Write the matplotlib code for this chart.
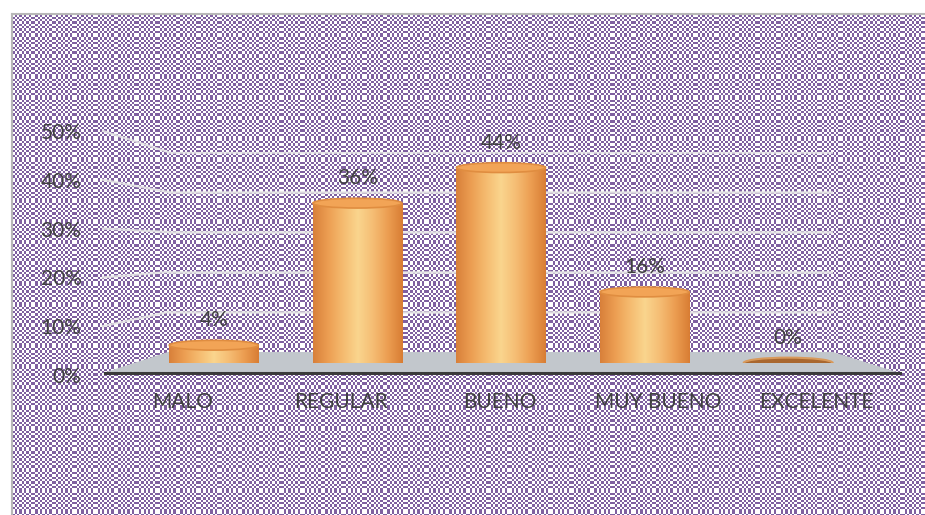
import numpy as np
import matplotlib
matplotlib.use("Agg")
import matplotlib.pyplot as plt
from matplotlib.colors import LinearSegmentedColormap
from matplotlib.patches import Ellipse, Polygon
from matplotlib.lines import Line2D
from matplotlib.ticker import PercentFormatter

categories = ["MALO", "REGULAR", "BUENO", "MUY BUENO", "EXCELENTE"]
values = [0.04, 0.36, 0.44, 0.16, 0.00]
value_labels = ["4%", "36%", "44%", "16%", "0%"]
yticks = [0.0, 0.1, 0.2, 0.3, 0.4, 0.5]

W, H = 925, 515
plt.rcParams['font.family'] = ['Lato', 'DejaVu Sans']
fig = plt.figure(figsize=(W / 100, H / 100), dpi=100)
fig.patch.set_facecolor('white')

# --- checkered purple background (decoration) ---
x0, y0 = 12, 14
bh, bw = H - y0, W - x0
yy, xx = np.mgrid[0:bh, 0:bw]
cell = 2.3
px = np.floor(xx / cell) + np.floor(xx / (9 * cell))
py = np.floor(yy / cell) + np.floor(yy / (9 * cell))
chk = ((px + py) % 2).astype(bool)
purple = np.array([0.50, 0.38, 0.63])
img = np.ones((bh, bw, 3))
img[chk] = purple
fig.figimage(img, xo=x0, yo=0, origin='upper', zorder=0)
fig.add_artist(Line2D([x0 / W, x0 / W], [0, 1 - y0 / H], color='#b8b8b8', lw=1.5,
                      transform=fig.transFigure))
fig.add_artist(Line2D([x0 / W, 1], [1 - y0 / H, 1 - y0 / H], color='#b8b8b8', lw=1.5,
                      transform=fig.transFigure))

def px_axes(left, right, top, bottom, **kw):
    return fig.add_axes([left / W, 1 - bottom / H, (right - left) / W, (bottom - top) / H], **kw)

# --- back wall with gridlines ---
ax_back = px_axes(168, 833, 152, 352, zorder=1)
ax_back.set_xlim(0, 1)
ax_back.set_ylim(0, 0.5)
ax_back.patch.set_visible(False)
for s in ax_back.spines.values():
    s.set_visible(False)
ax_back.set_xticks([])
ax_back.set_yticks(yticks[1:])
ax_back.tick_params(left=False, labelleft=False)
ax_back.grid(axis='y', color='#e6e6e6', lw=1.8, alpha=0.9)

# floor trapezoid (figure pixels)
floor = Polygon([(103 / W, 1 - 373 / H), (900 / W, 1 - 373 / H),
                 (833 / W, 1 - 352 / H), (168 / W, 1 - 352 / H)],
                closed=True, transform=fig.transFigure, facecolor='#c2c7cc',
                edgecolor='none', zorder=1, clip_on=False)
ax_back.add_artist(floor)

# --- front plane: y tick labels, category labels ---
ax_front = px_axes(105, 900, 131, 375, zorder=2)
ax_front.set_xlim(-0.49, 4.53)
ax_front.set_ylim(0, 0.5)
ax_front.patch.set_visible(False)
for k, s in ax_front.spines.items():
    s.set_visible(k == 'bottom')
ax_front.spines['bottom'].set_color('#3a3a3a')
ax_front.spines['bottom'].set_linewidth(2.2)
ax_front.spines['bottom'].set_position(('data', 0.004))
ax_front.set_yticks(yticks)
ax_front.yaxis.set_major_formatter(PercentFormatter(1.0, decimals=0))
ax_front.set_xticks(range(len(categories)))
ax_front.set_xticklabels(categories)
ax_front.tick_params(axis='y', length=0, pad=17, labelsize=15, labelcolor='#404040')
ax_front.tick_params(axis='x', length=0, pad=14, labelsize=15, labelcolor='#404040')

# perspective connectors of gridlines
for t in yticks[1:]:
    yf = 375 - t / 0.5 * 244
    yb = 352 - t / 0.5 * 200
    fig.add_artist(Line2D([103 / W, 168 / W], [1 - yf / H, 1 - yb / H], color='#e6e6e6',
                          lw=1.6, alpha=0.85, transform=fig.transFigure, zorder=1))

# --- bars (cylinders) ---
ax = px_axes(142, 860, 141, 363, zorder=3)
ax.patch.set_visible(False)
ax.set_axis_off()
ax.set_xlim(-0.5, 4.5)
ax.set_ylim(0, 0.5)

cmap = LinearSegmentedColormap.from_list(
    'cyl', ['#d8803a', '#ec9e52', '#f5bb70', '#fad58e', '#f5bd74', '#ec9e52', '#d87d34'])
grad = np.linspace(0, 1, 256).reshape(1, -1)
bw_ = 0.62
eh = 0.022  # ellipse height (data units)

bars = ax.bar(range(len(values)), values, width=bw_, color='none', edgecolor='none')
for i, (b, v) in enumerate(zip(bars, values)):
    xl = b.get_x()
    xr = xl + b.get_width()
    xc = xl + b.get_width() / 2
    if v > 0:
        im = ax.imshow(grad, cmap=cmap, extent=(xl, xr, 0, v), aspect='auto', zorder=3)
        im.set_clip_path(b)
        be = Ellipse((xc, 0), b.get_width(), eh, facecolor='none', edgecolor='none',
                     transform=ax.transData)
        ax.add_patch(be)
        im2 = ax.imshow(grad, cmap=cmap, extent=(xl, xr, -eh, eh), aspect='auto', zorder=3)
        im2.set_clip_path(be)
        ax.add_patch(Ellipse((xc, v), b.get_width(), eh, facecolor='#f2a456',
                             edgecolor='#e08d40', lw=1.2, zorder=4))
    else:
        ax.add_patch(Ellipse((xc, 0.0), b.get_width(), eh * 1.1, facecolor='#a9672f',
                             edgecolor='#d89a5c', lw=1.5, zorder=4))
    ax.annotate(value_labels[i], (xc, v), xytext=(0, 18), textcoords='offset points',
                ha='center', va='center', fontsize=15, color='#404040', zorder=5)

ax.set_xlim(-0.5, 4.5)
ax.set_ylim(0, 0.5)

fig.savefig('out.png', dpi=100)
